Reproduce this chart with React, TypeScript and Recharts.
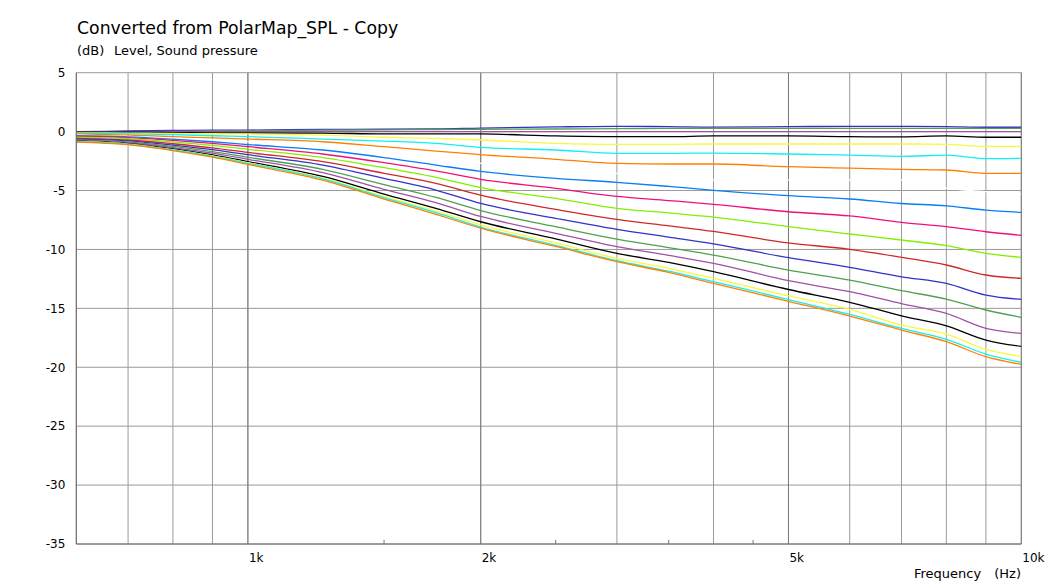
import React from "react";
import { LineChart, Line, XAxis, YAxis, CartesianGrid, ReferenceLine } from "recharts";

const FREQ = [600, 700, 800, 900, 1000, 1250, 1500, 1750, 2000, 2500, 3000, 3500, 4000, 5000, 6000, 7000, 8000, 9000, 10000];

const T1 = [0, 0.05, 0.1, 0.12, 0.13, 0.18, 0.2, 0.22, 0.3, 0.4, 0.45, 0.42, 0.38, 0.42, 0.45, 0.45, 0.42, 0.37, 0.37];
const T2 = [0, 0, 0.02, 0.05, 0.08, 0.12, 0.15, 0.18, 0.2, 0.22, 0.25, 0.27, 0.28, 0.28, 0.28, 0.28, 0.28, 0.28, 0.28];
const T3 = [-0.05, -0.03, 0, 0, 0, 0, 0, 0, 0, 0, 0, 0, 0, 0, 0, 0, 0, 0, 0];
const T4 = [-0.05, -0.05, -0.08, -0.1, -0.1, -0.12, -0.2, -0.2, -0.2, -0.37, -0.43, -0.43, -0.37, -0.37, -0.43, -0.45, -0.37, -0.48, -0.48];
const T5 = [-0.1, -0.12, -0.15, -0.18, -0.2, -0.29, -0.48, -0.57, -0.71, -1.0, -1.08, -1.08, -1.05, -1.05, -1.05, -1.05, -1.08, -1.25, -1.25];
const T6 = [-0.15, -0.2, -0.25, -0.35, -0.43, -0.63, -0.8, -1.0, -1.33, -1.56, -1.84, -1.84, -1.82, -1.9, -2.0, -2.1, -2.0, -2.3, -2.27];
const T7 = [-0.2, -0.3, -0.43, -0.53, -0.63, -0.86, -1.28, -1.65, -1.95, -2.35, -2.7, -2.75, -2.75, -2.98, -3.1, -3.2, -3.26, -3.54, -3.54];
const T8 = [-0.3, -0.4, -0.55, -0.7, -0.85, -1.2, -1.7, -2.2, -2.7, -3.2, -3.54, -3.85, -4.1, -4.1, -4.1, -4.1, -4.8, -5.1, -5.3];
const B1 = [-0.35, -0.44, -0.64, -0.86, -1.1, -1.56, -2.2, -2.84, -3.37, -3.97, -4.3, -4.65, -4.98, -5.44, -5.72, -6.1, -6.3, -6.66, -6.85];
const B2 = [-0.41, -0.51, -0.74, -1.0, -1.28, -1.9, -2.64, -3.34, -4.05, -4.81, -5.5, -5.85, -6.17, -6.8, -7.16, -7.7, -8.07, -8.5, -8.8];
const B3 = [-0.48, -0.6, -0.87, -1.17, -1.5, -2.2, -3.06, -3.88, -4.75, -5.66, -6.51, -6.9, -7.25, -8.07, -8.69, -9.2, -9.68, -10.33, -10.67];
const B4 = [-0.57, -0.71, -1.03, -1.38, -1.77, -2.55, -3.54, -4.39, -5.4, -6.6, -7.45, -8.0, -8.47, -9.45, -9.99, -10.67, -11.32, -12.17, -12.45];
const B5 = [-0.63, -0.78, -1.14, -1.53, -1.96, -2.84, -3.97, -4.96, -6.1, -7.36, -8.3, -8.95, -9.52, -10.7, -11.52, -12.32, -12.88, -13.87, -14.24];
const B6 = [-0.7, -0.87, -1.26, -1.7, -2.18, -3.2, -4.5, -5.58, -6.7, -8.07, -9.12, -9.85, -10.48, -11.75, -12.6, -13.5, -14.21, -15.14, -15.76];
const B7 = [-0.75, -0.94, -1.36, -1.83, -2.35, -3.48, -4.9, -6.03, -7.2, -8.63, -9.77, -10.5, -11.18, -12.65, -13.59, -14.6, -15.43, -16.7, -17.12];
const B8 = [-0.81, -1.02, -1.47, -1.98, -2.54, -3.8, -5.3, -6.51, -7.65, -9.1, -10.33, -11.1, -11.89, -13.4, -14.49, -15.63, -16.48, -17.69, -18.23];
const B9 = [-0.84, -1.06, -1.53, -2.06, -2.64, -3.95, -5.52, -6.74, -7.92, -9.45, -10.76, -11.6, -12.45, -13.95, -15.09, -16.42, -17.18, -18.48, -19.08];
const B10 = [-0.86, -1.08, -1.56, -2.1, -2.69, -4.02, -5.6, -6.88, -8.1, -9.65, -10.96, -11.85, -12.74, -14.25, -15.51, -16.7, -17.63, -18.88, -19.58];
const B11 = [-0.89, -1.11, -1.61, -2.17, -2.78, -4.12, -5.72, -7.02, -8.2, -9.75, -11.04, -11.95, -12.88, -14.4, -15.65, -16.84, -17.83, -19.1, -19.75];

const SERIES: [string, number[], string][] = [
  ["t1", T1, "#3232c8"],
  ["t2", T2, "#50a050"],
  ["t3", T3, "#a050a8"],
  ["t4", T4, "#000000"],
  ["t5", T5, "#f8f840"],
  ["t6", T6, "#10f0f0"],
  ["t7", T7, "#ff8000"],
  ["t8", T8, "#ffffff"],
  ["b1", B1, "#0a7cf5"],
  ["b2", B2, "#f0107a"],
  ["b3", B3, "#80f000"],
  ["b4", B4, "#d02828"],
  ["b5", B5, "#3232c8"],
  ["b6", B6, "#50a050"],
  ["b7", B7, "#a050a8"],
  ["b8", B8, "#000000"],
  ["b9", B9, "#f8f840"],
  ["b10", B10, "#10f0f0"],
  ["b11", B11, "#ff8000"],
];

const X_GRID = [600, 700, 800, 900, 1000, 2000, 3000, 4000, 5000, 6000, 7000, 8000, 9000, 10000];
const X_MAJOR = [1000, 2000, 5000, 10000];
const X_LABELS: Record<number, string> = { 1000: "1k", 2000: "2k", 5000: "5k", 10000: "10k" };
const X_MINOR = [1500, 2500, 3500, 4500];
const Y_TICKS = [5, 0, -5, -10, -15, -20, -25, -30, -35];

const data = FREQ.map((f, i) => {
  const row: Record<string, number> = { f };
  SERIES.forEach(([k, arr]) => {
    row[k] = arr[i];
  });
  return row;
});

const FONT = "'DejaVu Sans', Verdana, sans-serif";

const XTick = (props: any) => {
  const { x, y, payload } = props;
  const label = X_LABELS[payload.value] || "";
  return (
    <text x={x + 1} y={y + 17.5} textAnchor="start" fontFamily={FONT} fontSize={12} fill="#000">
      {label}
    </text>
  );
};

const YTick = (props: any) => {
  const { x, y, payload } = props;
  return (
    <text x={x - 11} y={y + 4.3} textAnchor="end" fontFamily={FONT} fontSize={12} fill="#000">
      {payload.value}
    </text>
  );
};

export default function App() {
  return (
    <div style={{ position: "absolute", left: 0, top: 0, width: 1050, height: 587, background: "#fff" }}>
      <LineChart
        width={1050}
        height={587}
        data={data}
        margin={{ top: 72.7, right: 28.7, bottom: 13, left: 26.3 }}
      >
        <CartesianGrid stroke="#9a9a9a" strokeWidth={1} />
        <XAxis
          dataKey="f"
          type="number"
          scale="log"
          domain={[600, 10000]}
          ticks={X_GRID}
          interval={0}
          allowDataOverflow
          height={30}
          tickLine={false}
          tickSize={0}
          tickMargin={0}
          tick={<XTick />}
          axisLine={{ stroke: "#6a6a6a" }}
        />
        <YAxis
          type="number"
          domain={[-35, 5]}
          ticks={Y_TICKS}
          interval={0}
          width={50}
          tickLine={false}
          tickSize={0}
          tickMargin={0}
          tick={<YTick />}
          axisLine={{ stroke: "#6a6a6a" }}
        />
        {X_MAJOR.map((f) => (
          <ReferenceLine key={"m" + f} x={f} stroke="#7c7c7c" strokeWidth={1} />
        ))}
        {X_MINOR.map((f) => (
          <ReferenceLine
            key={"n" + f}
            segment={[{ x: f, y: -35 }, { x: f, y: -34.65 }]}
            stroke="#7c7c7c"
            strokeWidth={1}
          />
        ))}
        {SERIES.map(([k, , c]) => (
          <Line
            key={k}
            dataKey={k}
            stroke={c}
            strokeWidth={1.3}
            dot={false}
            type="monotone"
            isAnimationActive={false}
          />
        ))}
      </LineChart>
      <svg width={1050} height={587} style={{ position: "absolute", left: 0, top: 0, pointerEvents: "none" }}>
        <text x={77} y={34} fontFamily={FONT} fontSize={17.3} fill="#000">
          Converted from PolarMap_SPL - Copy
        </text>
        <text x={77} y={55} fontFamily={FONT} fontSize={13} fill="#000">
          (dB)
        </text>
        <text x={114} y={55} fontFamily={FONT} fontSize={13} fill="#000">
          Level, Sound pressure
        </text>
        <text x={914} y={578} fontFamily={FONT} fontSize={13} fill="#000">
          Frequency
        </text>
        <text x={1021} y={578} textAnchor="end" fontFamily={FONT} fontSize={13} fill="#000">
          (Hz)
        </text>
      </svg>
    </div>
  );
}
